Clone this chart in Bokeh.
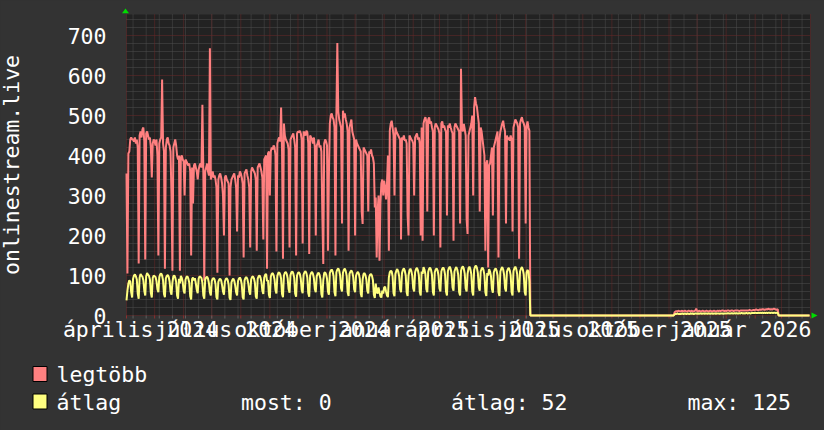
import pandas as pd
from bokeh.plotting import figure
from bokeh.models import FixedTicker, Range1d, AllLabels
from bokeh.embed import file_html
from bokeh.resources import INLINE
from bokeh.core.properties import value

# ---------------- data ----------------
START = "2024-04-01"          # left edge of the time axis
END = "2026-04-01"            # right edge of the time axis
GAP_START, GAP_END = "2025-06-06", "2025-11-06"     # zero period
TAIL_START = "2025-11-07"
END_ZERO_START, END_ZERO_END = "2026-02-26", "2026-03-31"

# daily maximum (legtöbb) 2024-04-01 .. 2025-06-05
max_main = [
    355, 105, 405, 410, 440, 445, 440,
    440, 435, 445, 430, 440, 420, 130,
    450, 460, 445, 465, 470, 435, 140,
    455, 460, 450, 440, 445, 420, 345,
    430, 440, 435, 425, 440, 400, 150,
    430, 440, 445, 590, 430, 410, 117,
    420, 440, 445, 430, 425, 410, 300,
    112, 420, 430, 440, 425, 400, 390,
    400, 112, 395, 400, 390, 385, 300,
    390, 385, 380, 375, 380, 360, 150,
    370, 280, 375, 380, 370, 360, 340,
    365, 375, 380, 370, 527, 360, 87,
    360, 370, 380, 360, 350, 668, 340,
    350, 360, 345, 350, 340, 320, 107,
    340, 350, 355, 345, 330, 300, 200,
    345, 350, 340, 335, 330, 100, 320,
    340, 345, 350, 355, 340, 320, 210,
    350, 345, 360, 355, 345, 330, 145,
    355, 360, 365, 350, 340, 320, 170,
    360, 370, 365, 360, 355, 340, 162,
    370, 375, 380, 370, 360, 345, 190,
    390, 395, 400, 117, 405, 410, 300,
    410, 420, 415, 425, 420, 400, 160,
    430, 440, 445, 435, 520, 410, 142,
    480, 450, 440, 435, 430, 415, 170,
    440, 445, 450, 455, 440, 420, 150,
    455, 460, 458, 462, 455, 440, 180,
    460, 455, 450, 462, 458, 430, 154,
    450, 445, 440, 430, 445, 420, 200,
    425, 430, 440, 420, 425, 410, 250,
    129, 430, 440, 435, 425, 162, 350,
    480, 500, 505, 495, 490, 470, 150,
    500, 681, 510, 490, 480, 470, 230,
    512, 495, 505, 490, 480, 460, 162,
    470, 480, 490, 460, 450, 440, 200,
    440, 430, 425, 420, 415, 410, 260,
    229, 420, 415, 410, 405, 400, 260,
    410, 405, 415, 400, 395, 380, 270,
    295, 145, 260, 300, 137, 280, 330,
    340, 300, 337, 320, 290, 330, 400,
    162, 462, 480, 487, 470, 450, 300,
    470, 460, 455, 450, 445, 440, 190,
    445, 440, 450, 437, 440, 430, 250,
    200, 450, 445, 440, 437, 430, 300,
    445, 450, 455, 440, 445, 430, 200,
    470, 187, 480, 490, 496, 485, 260,
    490, 495, 480, 485, 470, 460, 200,
    470, 480, 475, 470, 465, 455, 170,
    480, 485, 470, 475, 465, 460, 250,
    475, 470, 480, 470, 462, 455, 187,
    470, 480, 475, 470, 465, 460, 230,
    617, 470, 460, 479, 465, 450, 240,
    204, 450, 460, 470, 480, 500, 300,
    520, 546, 530, 521, 500, 480, 260,
    470, 460, 440, 420, 400, 162, 380,
    388, 120, 375, 380, 400, 420, 250,
    420, 430, 440, 450, 460, 145, 440,
    460, 470, 480, 487, 470, 460, 230,
    450, 440, 445, 437, 450, 440, 210,
    470, 480, 490, 485, 480, 470, 142,
    480, 490, 496, 485, 480, 470, 230,
    475, 485, 470, 462,
]

# daily average (átlag) 2024-04-01 .. 2025-06-05
avg_main = [
    38, 62, 80, 88, 85, 58, 45,
    92, 100, 103, 98, 90, 55, 42,
    95, 104, 100, 97, 88, 62, 50,
    98, 106, 102, 99, 90, 56, 45,
    94, 100, 98, 96, 86, 66, 58,
    96, 103, 105, 100, 88, 54, 46,
    93, 99, 101, 97, 85, 60, 52,
    82, 98, 100, 95, 84, 50, 42,
    92, 80, 99, 94, 83, 62, 55,
    90, 96, 98, 92, 82, 48, 40,
    91, 95, 88, 93, 80, 64, 56,
    92, 98, 96, 94, 82, 50, 42,
    90, 95, 97, 92, 80, 58, 50,
    86, 92, 94, 90, 78, 46, 40,
    84, 90, 92, 88, 76, 60, 52,
    85, 91, 93, 89, 77, 44, 39,
    83, 89, 92, 87, 75, 58, 50,
    86, 92, 95, 90, 78, 46, 40,
    88, 94, 96, 91, 80, 60, 52,
    90, 96, 98, 93, 82, 48, 42,
    92, 98, 100, 95, 84, 62, 54,
    95, 102, 104, 86, 88, 52, 44,
    97, 104, 106, 101, 90, 64, 55,
    99, 106, 108, 103, 92, 54, 46,
    100, 107, 109, 104, 93, 66, 57,
    101, 108, 110, 105, 94, 55, 47,
    100, 106, 108, 104, 92, 64, 56,
    102, 108, 111, 106, 95, 56, 47,
    100, 106, 109, 104, 93, 66, 58,
    98, 104, 107, 102, 91, 54, 45,
    88, 106, 108, 103, 92, 60, 52,
    106, 112, 115, 110, 98, 58, 48,
    108, 115, 118, 112, 100, 68, 60,
    107, 114, 117, 111, 99, 58, 49,
    104, 110, 113, 108, 96, 66, 58,
    100, 106, 109, 104, 92, 55, 46,
    90, 104, 106, 101, 90, 62, 55,
    96, 102, 104, 99, 88, 52, 44,
    80, 60, 55, 70, 58, 48, 45,
    62, 55, 70, 72, 60, 50, 46,
    95, 108, 112, 110, 98, 56, 48,
    104, 112, 116, 110, 98, 66, 58,
    106, 114, 118, 112, 100, 58, 49,
    100, 113, 117, 111, 99, 68, 60,
    108, 116, 119, 113, 101, 59, 50,
    110, 104, 121, 115, 103, 66, 58,
    109, 117, 120, 114, 102, 59, 50,
    108, 115, 118, 113, 100, 68, 60,
    110, 117, 120, 115, 102, 60, 50,
    111, 118, 122, 116, 103, 70, 62,
    110, 117, 121, 115, 102, 59, 50,
    112, 120, 123, 117, 104, 68, 60,
    104, 118, 122, 116, 103, 60, 50,
    114, 122, 125, 119, 106, 70, 62,
    110, 117, 120, 114, 101, 58, 49,
    106, 100, 116, 110, 98, 66, 57,
    108, 115, 118, 112, 100, 58, 49,
    110, 117, 121, 115, 102, 68, 60,
    109, 116, 119, 113, 101, 59, 50,
    111, 118, 122, 116, 103, 66, 58,
    110, 117, 121, 115, 102, 59, 50,
    108, 114, 110, 85,
]

# 2025-11-07 .. 2026-02-25
max_tail = [
    8, 10, 11, 10, 12, 11, 10,
    11, 12, 10, 11, 12, 11, 10,
    11, 12, 11, 10, 12, 11, 10,
    11, 12, 17, 11, 10, 12, 11,
    10, 11, 12, 11, 10, 11, 12,
    11, 10, 11, 12, 11, 10, 11,
    12, 11, 10, 11, 12, 11, 12,
    11, 12, 13, 12, 11, 12, 11,
    12, 13, 12, 11, 12, 13, 12,
    11, 12, 13, 12, 13, 12, 11,
    12, 13, 12, 13, 12, 13, 12,
    13, 12, 13, 14, 13, 12, 13,
    14, 13, 14, 15, 14, 13, 14,
    15, 14, 15, 16, 15, 14, 15,
    16, 15, 17, 16, 15, 16, 15,
    16, 17, 16, 15, 14, 16,
]
avg_tail = [
    3, 4, 4, 5, 4, 4, 4,
    4, 5, 4, 4, 5, 4, 4,
    5, 4, 4, 5, 4, 5, 4,
    4, 5, 5, 4, 5, 4, 5,
    5, 4, 5, 5, 4, 5, 5,
    4, 5, 5, 4, 5, 5, 4,
    5, 5, 4, 5, 5, 5, 4,
    5, 5, 5, 4, 5, 5, 5,
    5, 6, 5, 5, 5, 6, 5,
    5, 6, 5, 6, 5, 5, 6,
    5, 6, 6, 5, 6, 5, 6,
    6, 5, 6, 6, 5, 6, 6,
    6, 6, 7, 6, 6, 6, 7,
    6, 7, 6, 7, 6, 7, 6,
    7, 6, 7, 7, 6, 7, 7,
    6, 7, 7, 6, 7, 7,
]

LABEL_MONTHS = ["2024-04-01", "2024-07-01", "2024-10-01", "2025-01-01",
                "2025-04-01", "2025-07-01", "2025-10-01", "2026-01-01"]
LABEL_TEXTS = ["április 2024", "július 2024", "október 2024", "január 2025",
               "április 2025", "július 2025", "október 2025", "január 2026"]
Y_TICKS = [0, 100, 200, 300, 400, 500, 600, 700]
Y_MINOR = [20, 40, 60, 80, 120, 140, 160, 180, 220, 240, 260, 280, 320, 340, 360, 380,
           420, 440, 460, 480, 520, 540, 560, 580, 620, 640, 660, 680, 720, 740]
Y_TOP = 752.5

SERIES_NAMES = ["legtöbb", "átlag"]
STATS = ["most: 0", "átlag: 52", "max: 125"]

RED = "#ff8080"
YELLOW = "#ffff80"
BG = "#333333"
CANVAS = "#222222"
GRID = "#4e4e4e"
MGRID = "#6a2828"
FONT = "DejaVu Sans Mono"
FS = "21.5px"

# ---------------- layout helpers (page pixels -> data units) ----------------
W, H = 824, 430
LEFT, RIGHT, BOTTOM = 126, 810, 315      # plot area on the page
d0 = pd.Timestamp(START)


def day(s):
    return (pd.Timestamp(s) - d0).days


N_DAYS = day(END)
PPD = (RIGHT - LEFT) / N_DAYS     # pixels per day
PPU = (BOTTOM - 14) / Y_TOP       # pixels per unit


def X(px):
    return (px - LEFT) / PPD


def Y(py):
    return (BOTTOM - py) / PPU


# ---------------- series positions ----------------
tail0 = day(TAIL_START)
xs = (list(range(len(max_main)))
      + [day(GAP_START), day(GAP_END)]
      + [tail0 + i for i in range(len(max_tail))]
      + [day(END_ZERO_START), day(END_ZERO_END)])
y_max = max_main + [0, 0] + max_tail + [0, 0]
y_avg = avg_main + [0, 0] + avg_tail + [0, 0]

month_days = [day(m) for m in pd.date_range(START, END, freq="MS")]
minor_days = [day(m) for m in pd.date_range("2024-04-08", END, freq="14D")]
label_days = [day(m) + 15 for m in LABEL_MONTHS]

# ---------------- figure ----------------
p = figure(width=W, height=H, x_range=Range1d(X(0), X(W)), y_range=Range1d(Y(H), Y(0)),
           toolbar_location=None, output_backend="svg", min_border=0)
p.background_fill_color = BG
p.border_fill_color = BG
p.outline_line_color = None
p.xgrid.visible = False
p.ygrid.visible = False

# plot canvas
p.quad(left=[0], right=[N_DAYS], bottom=[0], top=[Y_TOP], fill_color=CANVAS, line_color=None)

# grid (minor, then major), dotted
p.segment(x0=minor_days, x1=minor_days, y0=[0] * len(minor_days), y1=[Y_TOP] * len(minor_days),
          line_color=GRID, line_width=1, line_dash="1 1")
p.segment(x0=[0] * len(Y_MINOR), x1=[N_DAYS] * len(Y_MINOR), y0=Y_MINOR, y1=Y_MINOR,
          line_color=GRID, line_width=1, line_dash="1 1")
p.segment(x0=month_days, x1=month_days, y0=[0] * len(month_days), y1=[Y_TOP] * len(month_days),
          line_color=MGRID, line_width=1, line_dash="1 1")
p.segment(x0=[0] * len(Y_TICKS), x1=[N_DAYS] * len(Y_TICKS), y0=Y_TICKS, y1=Y_TICKS,
          line_color=MGRID, line_width=1, line_dash="1 1")
# small tick marks below the plot
p.segment(x0=month_days, x1=month_days, y0=[Y(318)] * len(month_days), y1=[0] * len(month_days),
          line_color="#8a3030", line_width=1)
p.segment(x0=minor_days, x1=minor_days, y0=[Y(318)] * len(minor_days), y1=[0] * len(minor_days),
          line_color="#606060", line_width=1)

# data
p.line(xs, y_max, line_color=RED, line_width=2)
p.line(xs, y_avg, line_color=YELLOW, line_width=2)

# green axis arrows
p.patches(xs=[[X(121.5), X(128.5), X(125)], [X(811), X(811), X(817)]],
          ys=[[Y(12.8), Y(12.8), Y(8)], [Y(312), Y(318), Y(315)]],
          fill_color="#00dd00", line_color=None)

# axes, placed at the plot edges
ax = p.xaxis[0]
ax.fixed_location = 0
ax.bounds = (0, N_DAYS)
ax.ticker = FixedTicker(ticks=label_days)
ax.major_label_overrides = {d: t for d, t in zip(label_days, LABEL_TEXTS)}
ax.major_label_policy = AllLabels()
ax.major_label_standoff = -5
ay = p.yaxis[0]
ay.fixed_location = 0
ay.bounds = (0, Y_TOP)
ay.ticker = FixedTicker(ticks=Y_TICKS)
ay.axis_label = "onlinestream.live"
ay.axis_label_standoff = 41
ay.major_label_standoff = 14
for a in (ax, ay):
    a.axis_line_color = None
    a.major_tick_line_color = None
    a.minor_tick_line_color = None
    a.major_label_text_font = FONT
    a.major_label_text_font_size = FS
    a.major_label_text_color = "white"
    a.axis_label_text_font = FONT
    a.axis_label_text_font_size = FS
    a.axis_label_text_font_style = "normal"
    a.axis_label_text_color = "white"

# legend
p.rect(x=[X(39.5), X(39.5)], y=[Y(373.5), Y(401)], width=14, height=15,
       width_units="screen", height_units="screen",
       fill_color=[RED, YELLOW], line_color="black", line_width=1)
p.text(x=[X(56), X(56), X(240.5), X(450.5), X(687)],
       y=[Y(373.5), Y(401.5), Y(401.5), Y(401.5), Y(401.5)],
       text=SERIES_NAMES + STATS, text_font=value(FONT), text_font_size=FS,
       text_color="white", text_baseline="middle", text_align="left")

html = file_html(p, INLINE)
html = html.replace(
    "</head>",
    "<style>html,body{margin:0;padding:0;overflow:hidden;background:#333333;}</style></head>", 1)
open("out.html", "w").write(html)
